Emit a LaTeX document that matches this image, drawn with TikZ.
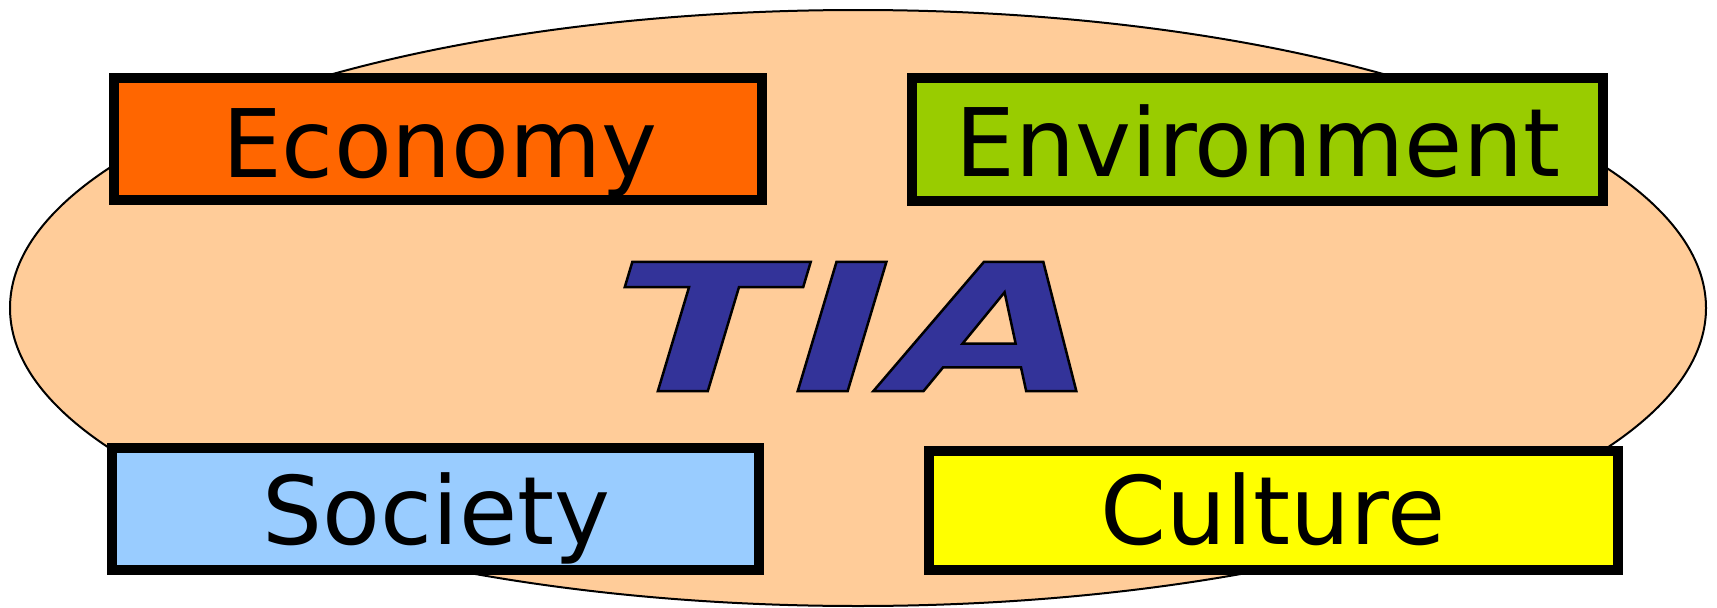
\documentclass[tikz,border=0pt]{standalone}
\usepackage{fontspec}
\usetikzlibrary{shapes.geometric}
\setmainfont{DejaVu Sans}
\newfontfamily\tiafont[FakeStretch=1.5,FakeSlant=0.3]{DejaVu Sans}
\definecolor{peach}{HTML}{FFCC99}
\definecolor{ecoorange}{HTML}{FF6600}
\definecolor{envgreen}{HTML}{99CC00}
\definecolor{socblue}{HTML}{99CCFF}
\definecolor{culyellow}{HTML}{FFFF00}
\definecolor{tiablue}{HTML}{333399}
\tikzset{
  box/.style={draw=black, line width=10pt, inner sep=0pt, rectangle},
  lbl/.style={anchor=base, inner sep=0pt, font=\fontsize{94.6}{100}\selectfont},
}
\begin{document}
\begin{tikzpicture}[x=1pt, y=-1pt]
\useasboundingbox (0,0) rectangle (1717,608);
\node[ellipse, draw=black, line width=2pt, fill=peach, minimum width=1696pt, minimum height=596pt, inner sep=0pt] (ell) at (858,308) {};
\node[box, fill=ecoorange, minimum width=648pt, minimum height=122pt] (eco) at (438,138.5) {};
\node[box, fill=envgreen, minimum width=690.5pt, minimum height=123pt] (env) at (1257.25,139) {};
\node[box, fill=socblue, minimum width=647.5pt, minimum height=122pt] (soc) at (435.25,508.5) {};
\node[box, fill=culyellow, minimum width=689.5pt, minimum height=119pt] (cul) at (1273.25,510) {};
\node[lbl] (ecot) at (440,177) {Economy};
\node[lbl] (envt) at (1258,176) {Environment};
\node[lbl] (soct) at (436.5,544) {Society};
\node[lbl] (cult) at (1273,544) {Culture};
\node[anchor=base, inner sep=0pt, font=\tiafont\bfseries\fontsize{177}{180}\selectfont, text=tiablue] (tia) at (835,391)
  {\special{pdf:literal direct 0 G 2 Tr 2.5 w}TIA\special{pdf:literal direct 0 Tr}};
\end{tikzpicture}
\end{document}
